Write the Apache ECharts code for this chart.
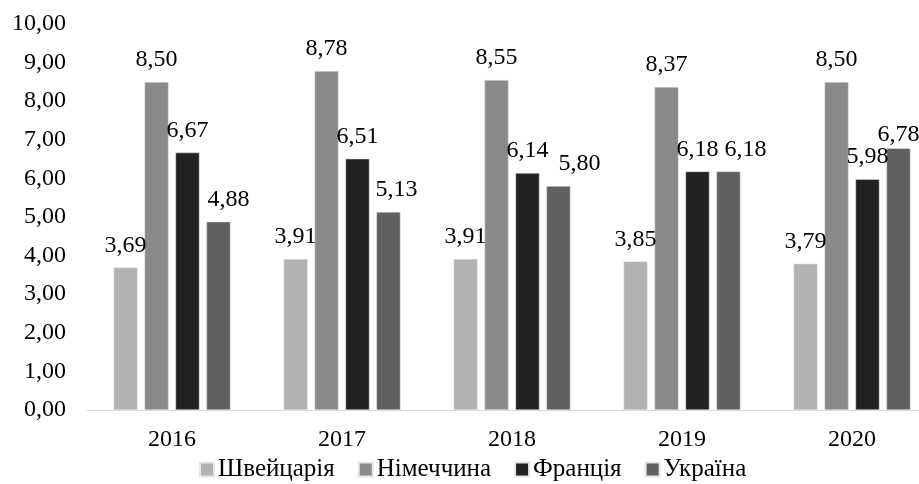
<!DOCTYPE html>
<html>
<head>
<meta charset="utf-8">
<script src="https://cdn.jsdelivr.net/npm/echarts@6/dist/echarts.min.js"></script>
<style>html,body{margin:0;padding:0;background:#fff}#c{width:919px;height:484px}</style>
</head>
<body>
<div id="c"></div>
<script>
const categories = ['2016', '2017', '2018', '2019', '2020'];
const seriesNames = ['Швейцарія', 'Німеччина', 'Франція', 'Україна'];
const swiss = [3.69, 3.91, 3.91, 3.85, 3.79];
const germany = [8.50, 8.78, 8.55, 8.37, 8.50];
const france = [6.67, 6.51, 6.14, 6.18, 5.98];
const ukraine = [4.88, 5.13, 5.80, 6.18, 6.78];

// styling (not data): colours and manual label nudges seen in the reference
const colors = ['#b2b2b2', '#8a8a8a', '#222222', '#606060'];
const labelNudge = {
  3: [[10, 0], [8, 0], [21, 0], [17, 0], [0, 8]]
};

const font = 'Liberation Serif';
const fmt = v => v.toFixed(2).replace('.', ',');

const chart = echarts.init(document.getElementById('c'));
const mk = (name, values, i) => ({
  name, type: 'bar',
  data: values.map((v, j) => {
    const n = labelNudge[i] && labelNudge[i][j];
    return n ? { value: v, label: { offset: n } } : v;
  }),
  barWidth: 24, barGap: '29%',
  itemStyle: { color: colors[i], borderColor: '#e6e6e6', borderWidth: 0.5 },
  label: { show: true, position: 'top', distance: 10, color: '#000', fontFamily: font, fontSize: 24,
    formatter: p => fmt(p.value) }
});
chart.setOption({
  animation: false,
  color: colors,
  grid: { left: 87, top: 24, width: 850, bottom: 74, containLabel: false, outerBoundsMode: 'none' },
  xAxis: {
    type: 'category', data: categories,
    axisLine: { lineStyle: { color: '#d9d9d9', width: 1 } },
    axisTick: { show: false },
    axisLabel: { color: '#000', fontFamily: font, fontSize: 24, margin: 18 }
  },
  yAxis: {
    type: 'value', min: 0, max: 10, interval: 1,
    splitLine: { show: false },
    axisLine: { show: false }, axisTick: { show: false },
    axisLabel: { color: '#000', fontFamily: font, fontSize: 24, margin: 21, formatter: v => fmt(v) }
  },
  legend: {
    left: 194, top: 452, itemWidth: 14, itemHeight: 14, itemGap: 23,
    icon: 'rect',
    textStyle: { color: '#000', fontFamily: font, fontSize: 25, padding: [0, 0, 0, -1] },
    data: seriesNames
  },
  series: [mk(seriesNames[0], swiss, 0), mk(seriesNames[1], germany, 1), mk(seriesNames[2], france, 2), mk(seriesNames[3], ukraine, 3)]
});
</script>
</body>
</html>
